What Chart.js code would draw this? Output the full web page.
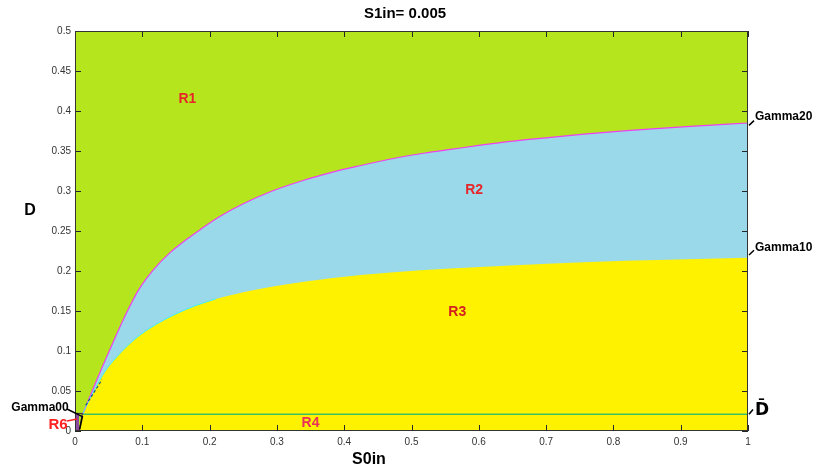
<!DOCTYPE html>
<html>
<head>
<meta charset="utf-8">
<script src="https://cdn.jsdelivr.net/npm/chart.js@4/dist/chart.umd.min.js"></script>
<style>
  html, body { margin: 0; padding: 0; background: #fff; }
  #wrap { width: 814px; height: 471px; }
</style>
</head>
<body>
<div id="wrap"><canvas id="c"></canvas></div>
<script>
// boundary Gamma2 (R1 / R2)
const upperX = [0.011, 0.03, 0.053, 0.075, 0.095, 0.117, 0.14, 0.165, 0.1865, 0.215, 0.25, 0.293, 0.34, 0.38, 0.42, 0.469, 0.52, 0.558, 0.6, 0.647, 0.7, 0.756, 0.82, 0.88, 0.94, 1];
const upperY = [0.02, 0.059, 0.104, 0.145, 0.177, 0.202, 0.222, 0.239, 0.252, 0.268, 0.284, 0.3, 0.3135, 0.323, 0.331, 0.34, 0.3475, 0.352, 0.357, 0.362, 0.3665, 0.371, 0.3755, 0.379, 0.382, 0.385];
// boundary Gamma1 (R2 / R3)
const lowerX = [0.006, 0.011, 0.028, 0.045, 0.068, 0.092, 0.12, 0.149, 0.18, 0.209, 0.25, 0.29, 0.34, 0.38, 0.469, 0.558, 0.647, 0.756, 0.88, 1];
const lowerY = [0, 0.021, 0.05, 0.075, 0.098, 0.117, 0.133, 0.146, 0.157, 0.165, 0.1735, 0.18, 0.1865, 0.191, 0.198, 0.203, 0.207, 0.211, 0.214, 0.2167];
// D bar
const dBar = 0.021;
// R6 corner
const r6X = [0, 0, 0.011, 0.006];
const r6Y = [0, 0.022, 0.022, 0];
// dashed trace near origin
const traceX = [0.016, 0.04];
const traceY = [0.032, 0.064];

const xTicks = [0, 0.1, 0.2, 0.3, 0.4, 0.5, 0.6, 0.7, 0.8, 0.9, 1];
const yTicks = [0, 0.05, 0.1, 0.15, 0.2, 0.25, 0.3, 0.35, 0.4, 0.45, 0.5];

const pts = (xs, ys) => xs.map((x, i) => ({ x: x, y: ys[i] }));

// region labels in data units
const regionLabels = [
  { t: 'R1', x: 0.167, y: 0.415, c: '#e8262a' },
  { t: 'R2', x: 0.593, y: 0.301, c: '#e8262a' },
  { t: 'R3', x: 0.568, y: 0.148, c: '#d42020' },
  { t: 'R4', x: 0.35, y: 0.01, c: '#e8305a' }
];

const sans = '"Liberation Sans", Arial, sans-serif';

const overlay = {
  id: 'overlay',
  afterDatasetsDraw(chart) {
    const ctx = chart.ctx, a = chart.chartArea;
    const xs = chart.scales.x, ys = chart.scales.y;
    ctx.save();
    ctx.strokeStyle = '#262626';
    ctx.lineWidth = 1;
    ctx.beginPath();
    xTicks.forEach(v => {
      const p = Math.round(xs.getPixelForValue(v)) + 0.5;
      ctx.moveTo(p, a.bottom); ctx.lineTo(p, a.bottom - 6);
      ctx.moveTo(p, a.top); ctx.lineTo(p, a.top + 6);
    });
    yTicks.forEach(v => {
      const p = Math.round(ys.getPixelForValue(v)) + 0.5;
      ctx.moveTo(a.left, p); ctx.lineTo(a.left + 6, p);
      ctx.moveTo(a.right, p); ctx.lineTo(a.right - 6, p);
    });
    ctx.stroke();
    ctx.strokeStyle = '#333';
    ctx.strokeRect(Math.round(a.left) + 0.5, Math.round(a.top) + 0.5, Math.round(a.right - a.left) - 1, Math.round(a.bottom - a.top) - 1);
    ctx.restore();
  },
  afterDraw(chart) {
    const ctx = chart.ctx, a = chart.chartArea;
    const xs = chart.scales.x, ys = chart.scales.y;
    const X = v => xs.getPixelForValue(v), Y = v => ys.getPixelForValue(v);
    ctx.save();
    ctx.textAlign = 'center';
    ctx.textBaseline = 'middle';

    // title and axis names
    ctx.fillStyle = '#000';
    ctx.font = 'bold 15px ' + sans;
    ctx.fillText('S1in= 0.005', 405, 14);
    ctx.font = 'bold 16px ' + sans;
    ctx.fillText('D', 30, 211);
    ctx.fillText('S0in', 369, 460);

    // region names
    ctx.font = 'bold 14px ' + sans;
    regionLabels.forEach(l => {
      ctx.fillStyle = l.c;
      ctx.fillText(l.t, X(l.x), Y(l.y));
    });
    ctx.fillStyle = '#ff2020';
    ctx.font = 'bold 15px ' + sans;
    ctx.fillText('R6', 58, 425);

    // pointer lines
    ctx.lineWidth = 1.5;
    ctx.strokeStyle = '#000';
    ctx.beginPath();
    ctx.moveTo(67, 409); ctx.lineTo(X(0.011), Y(0.018)); ctx.lineTo(X(0.007), Y(0.002));
    ctx.moveTo(a.right + 1, Y(0.382)); ctx.lineTo(a.right + 6, Y(0.388));
    ctx.moveTo(a.right + 1, Y(0.22)); ctx.lineTo(a.right + 6, Y(0.226));
    ctx.moveTo(a.right + 1, Y(dBar)); ctx.lineTo(a.right + 5, Y(dBar + 0.006));
    ctx.stroke();
    ctx.strokeStyle = '#ff2020';
    ctx.beginPath();
    ctx.moveTo(67, 421); ctx.lineTo(77, 419);
    ctx.stroke();

    // boundary names
    ctx.fillStyle = '#000';
    ctx.textAlign = 'left';
    ctx.font = 'bold 12px ' + sans;
    ctx.fillText('Gamma20', a.right + 7, 117);
    ctx.fillText('Gamma10', a.right + 7, 248);
    ctx.textAlign = 'center';
    ctx.fillText('Gamma00', 40, 408);
    ctx.font = 'bold 17px "DejaVu Sans", sans-serif';
    ctx.textAlign = 'left';
    ctx.fillText('D\u0304', a.right + 7, 411);
    ctx.restore();
  }
};

const line = (data, color, width, extra) => Object.assign({
  data: data, showLine: true, borderColor: color, borderWidth: width,
  pointRadius: 0, fill: false
}, extra || {});

new Chart(document.getElementById('c'), {
  type: 'scatter',
  data: {
    datasets: [
      line(pts(r6X, r6Y), '#3a1a4a', 1, { fill: 'origin', backgroundColor: '#8e4aa0' }),
      line([{ x: 0.011, y: dBar }, { x: 1, y: dBar }], '#3cc060', 1.5),
      line(pts(traceX, traceY), '#1a5a80', 1.2, { borderDash: [3, 2] }),
      line(pts(lowerX.slice(1, 10), lowerY.slice(1, 10)), '#40f0ff', 1, { cubicInterpolationMode: 'monotone' }),
      line(pts(upperX, upperY), '#f040f0', 1.2, { cubicInterpolationMode: 'monotone' }),
      line(pts(lowerX, lowerY), '#fff200', 0, { fill: 'origin', backgroundColor: '#fff200', cubicInterpolationMode: 'monotone' }),
      line(pts(upperX, upperY), '#99d9ea', 0, { fill: 'origin', backgroundColor: '#99d9ea', cubicInterpolationMode: 'monotone' }),
      line([{ x: 0, y: 0.5 }, { x: 1, y: 0.5 }], '#b5e61d', 0, { fill: 'origin', backgroundColor: '#b5e61d' })
    ]
  },
  options: {
    responsive: true,
    maintainAspectRatio: false,
    animation: false,
    layout: { padding: { top: 31, right: 66, left: 0, bottom: 0 } },
    plugins: { legend: { display: false }, title: { display: false }, tooltip: { enabled: false } },
    scales: {
      x: {
        type: 'linear', min: 0, max: 1,
        afterFit: s => { s.height = 40; },
        grid: { display: false, drawTicks: false }, border: { display: false },
        afterBuildTicks: s => { s.ticks = xTicks.map(v => ({ value: v })); },
        ticks: { padding: 5, color: '#333', font: { family: sans, size: 10 }, maxRotation: 0,
          callback: v => String(+Number(v).toFixed(2)) }
      },
      y: {
        type: 'linear', min: 0, max: 0.5,
        afterFit: s => { s.width = 75; },
        grid: { display: false, drawTicks: false }, border: { display: false },
        afterBuildTicks: s => { s.ticks = yTicks.map(v => ({ value: v })); },
        ticks: { padding: 4, color: '#333', font: { family: sans, size: 10 },
          callback: v => String(+Number(v).toFixed(2)) }
      }
    }
  },
  plugins: [overlay]
});
</script>
</body>
</html>
